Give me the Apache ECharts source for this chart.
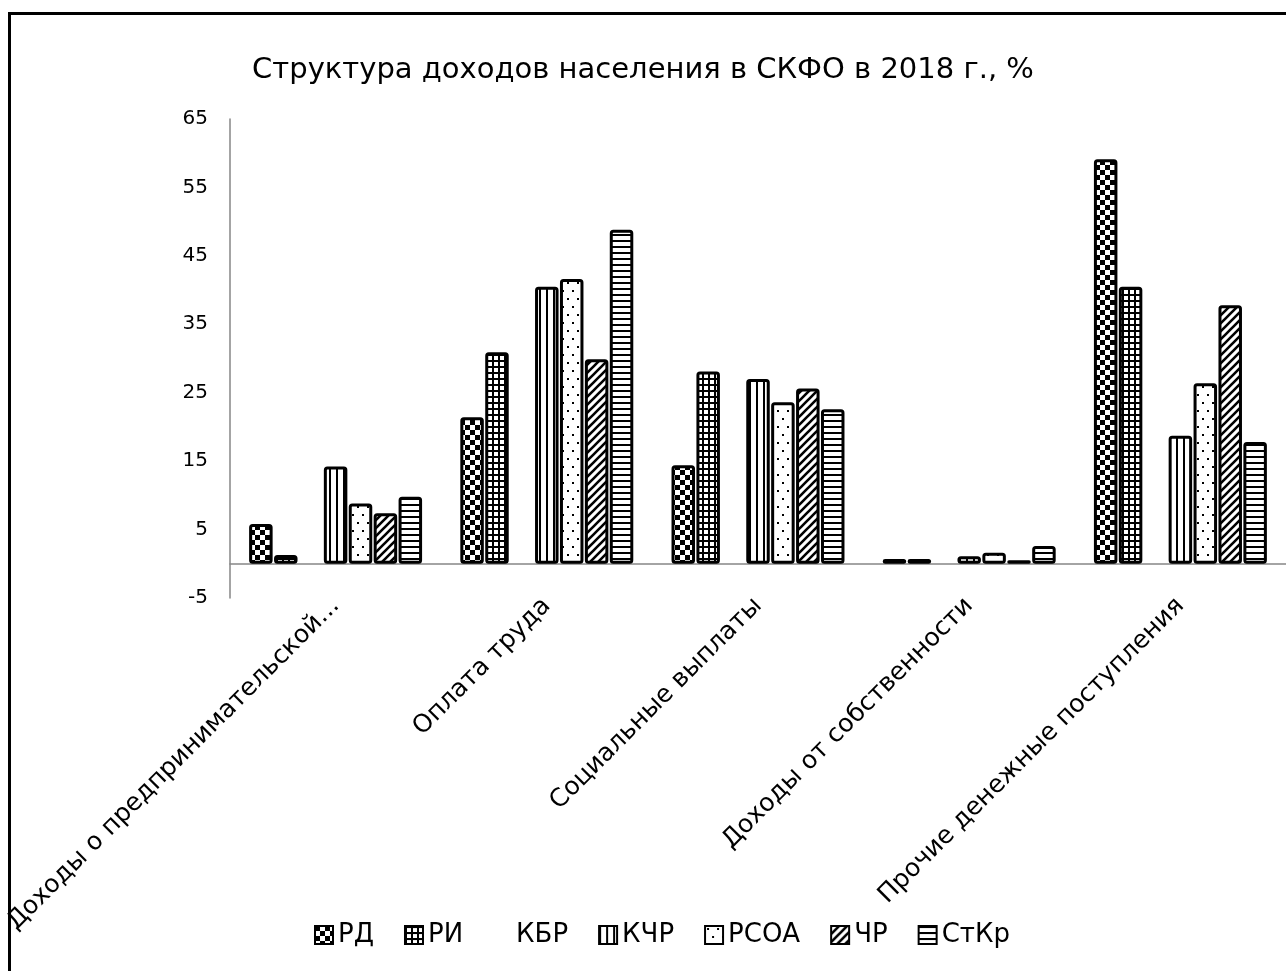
<!DOCTYPE html>
<html>
<head>
<meta charset="utf-8">
<script src="https://cdn.jsdelivr.net/npm/echarts@6/dist/echarts.min.js"></script>
<style>
html,body{margin:0;padding:0;background:#fff;}
#chart{width:1286px;height:971px;}
</style>
</head>
<body>
<div id="chart"></div>
<script>
const categories = ['Доходы о предпринимательской...', 'Оплата труда', 'Социальные выплаты', 'Доходы от собственности', 'Прочие денежные поступления'];
const seriesNames = ['РД', 'РИ', 'КБР', 'КЧР', 'РСОА', 'ЧР', 'СтКр'];
const valRD   = [5.8, 21.4, 14.4, 0.7, 59.1];
const valRI   = [1.3, 30.9, 28.1, 0.7, 40.5];
const valKBR  = [null, null, null, null, null];
const valKCHR = [14.2, 40.5, 27.0, 1.1, 18.7];
const valRSOA = [8.8, 41.6, 23.6, 1.6, 26.4];
const valCHR  = [7.4, 29.9, 25.6, 0.5, 37.8];
const valStKr = [9.8, 48.8, 22.6, 2.6, 17.8];
const yTicks = {min: -5, max: 65, interval: 10};

function makePattern(w, h, draw) {
  const c = document.createElement('canvas');
  c.width = w; c.height = h;
  const ctx = c.getContext('2d');
  ctx.fillStyle = '#fff';
  ctx.fillRect(0, 0, w, h);
  ctx.fillStyle = '#000';
  ctx.strokeStyle = '#000';
  draw(ctx, w, h);
  return {image: c, repeat: 'repeat'};
}
const patRD = makePattern(10, 10, (ctx) => { ctx.fillRect(0, 0, 5, 5); ctx.fillRect(5, 5, 5, 5); });
const patRI = makePattern(6, 6, (ctx) => { ctx.fillRect(0, 0, 6, 2); ctx.fillRect(0, 0, 2, 6); });
const patKCHR = makePattern(7, 7, (ctx) => { ctx.fillRect(0, 0, 2, 7); });
const patRSOA = makePattern(10, 16, (ctx) => { ctx.fillRect(2, 2, 2, 2); ctx.fillRect(7, 10, 2, 2); });
const patCHR = makePattern(8, 8, (ctx) => {
  ctx.lineWidth = 2.6;
  ctx.beginPath();
  ctx.moveTo(-1, 9); ctx.lineTo(9, -1);
  ctx.moveTo(-2, 2); ctx.lineTo(2, -2);
  ctx.moveTo(6, 10); ctx.lineTo(10, 6);
  ctx.stroke();
});
const patStKr = makePattern(6, 6, (ctx) => { ctx.fillRect(0, 0, 6, 2); });

const FONT = 'DejaVu Sans';
const values = [valRD, valRI, valKBR, valKCHR, valRSOA, valCHR, valStKr];
const patterns = [patRD, patRI, 'transparent', patKCHR, patRSOA, patCHR, patStKr];

const series = seriesNames.map((name, i) => ({
  name: name,
  type: 'bar',
  xAxisIndex: 0,
  data: values[i],
  barWidth: 23.5,
  barGap: '6%',
  itemStyle: i === 2 ? {color: 'transparent', borderWidth: 0} : {
    color: patterns[i],
    borderColor: '#000',
    borderWidth: 3,
    borderRadius: 2
  },
  emphasis: {disabled: true},
  animation: false
}));

const chart = echarts.init(document.getElementById('chart'), null, {renderer: 'canvas'});
chart.setOption({
  backgroundColor: '#fff',
  animation: false,
  title: {
    text: 'Структура доходов населения в СКФО в 2018 г., %',
    left: 'center',
    top: 56,
    padding: 0,
    textStyle: {fontFamily: FONT, fontSize: 29, fontWeight: 'normal', color: '#000'}
  },
  graphic: [{
    type: 'rect',
    shape: {x: 9.5, y: 13.5, width: 1300, height: 1000},
    style: {fill: 'none', stroke: '#000', lineWidth: 3},
    silent: true
  }],
  legend: {
    data: seriesNames,
    left: 309,
    top: 917,
    itemWidth: 18,
    itemHeight: 18,
    itemGap: 30,
    icon: 'rect',
    selectedMode: false,
    textStyle: {fontFamily: FONT, fontSize: 26, color: '#000'}
  },
  grid: {left: 230, top: 119, right: -7, bottom: 373, containLabel: false},
  xAxis: [{
    type: 'category',
    data: categories,
    position: 'bottom',
    axisLine: {show: true, onZero: true, lineStyle: {color: '#868686', width: 1.5}},
    axisTick: {show: false},
    axisLabel: {show: false},
    splitLine: {show: false}
  }, {
    type: 'category',
    data: categories,
    position: 'bottom',
    axisLine: {show: false, onZero: false},
    axisTick: {show: false},
    axisLabel: {
      show: true, rotate: 45, margin: 4, interval: 0,
      fontFamily: FONT, fontSize: 25, color: '#000'
    },
    splitLine: {show: false}
  }],
  yAxis: {
    type: 'value',
    min: yTicks.min,
    max: yTicks.max,
    interval: yTicks.interval,
    axisLine: {show: true, lineStyle: {color: '#868686', width: 1.5}},
    axisTick: {show: false},
    splitLine: {show: false},
    axisLabel: {fontFamily: FONT, fontSize: 20, color: '#000', margin: 22}
  },
  series: series
});
</script>
</body>
</html>
